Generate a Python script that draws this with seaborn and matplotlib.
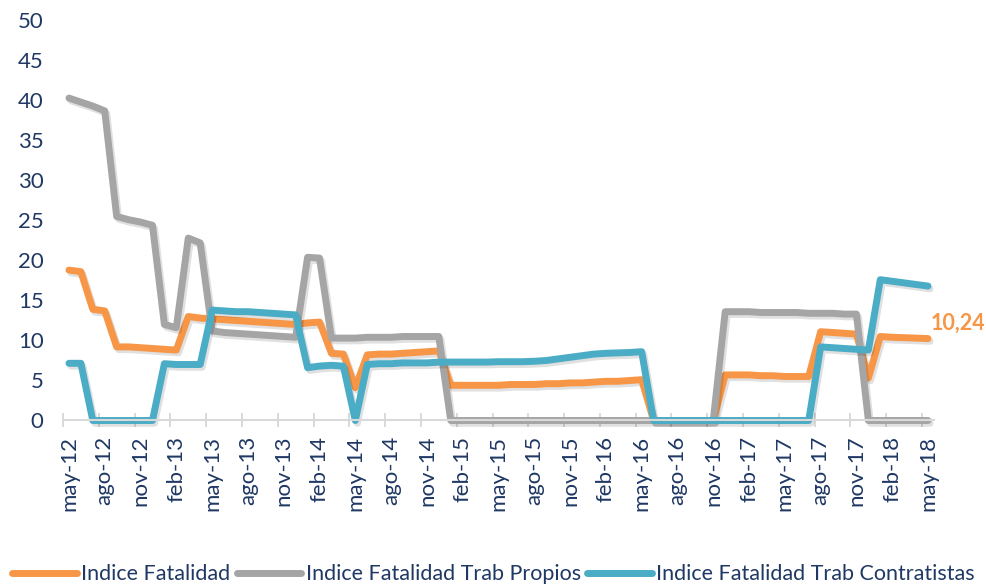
import numpy as np
import pandas as pd
import matplotlib
matplotlib.use("Agg")
import matplotlib.pyplot as plt
import matplotlib.patheffects as pe
import seaborn as sns

# data (monthly, may-12 .. may-18)
etiquetas = ['may-12', 'ago-12', 'nov-12', 'feb-13', 'may-13', 'ago-13', 'nov-13', 'feb-14',
             'may-14', 'ago-14', 'nov-14', 'feb-15', 'may-15', 'ago-15', 'nov-15', 'feb-16',
             'may-16', 'ago-16', 'nov-16', 'feb-17', 'may-17', 'ago-17', 'nov-17', 'feb-18', 'may-18']

fatalidad = [18.8, 18.6, 13.9, 13.7, 9.2, 9.2, 9.1, 9.0, 8.9, 8.8,
             13.0, 12.8, 12.7, 12.6, 12.5, 12.4, 12.3, 12.2, 12.1, 12.0,
             12.2, 12.3, 8.4, 8.3, 4.1, 8.2, 8.3, 8.3, 8.4, 8.5,
             8.6, 8.7, 4.4, 4.4, 4.4, 4.4, 4.4, 4.5, 4.5, 4.5,
             4.6, 4.6, 4.7, 4.7, 4.8, 4.9, 4.9, 5.0, 5.1, 0,
             0, 0, 0, 0, 0, 5.7, 5.7, 5.7, 5.6, 5.6,
             5.5, 5.5, 5.5, 11.1, 11.0, 10.9, 10.8, 5.3, 10.5, 10.4,
             10.35, 10.3, 10.24]

propios = [40.3, 39.8, 39.3, 38.7, 25.5, 25.1, 24.8, 24.4, 12.0, 11.6,
           22.8, 22.2, 11.2, 11.0, 10.9, 10.8, 10.7, 10.6, 10.5, 10.4,
           20.4, 20.3, 10.3, 10.3, 10.3, 10.4, 10.4, 10.4, 10.5, 10.5,
           10.5, 10.5, 0, 0, 0, 0, 0, 0, 0, 0,
           0, 0, 0, 0, 0, 0, 0, 0, 0, 0,
           0, 0, 0, 0, 0, 13.6, 13.6, 13.6, 13.5, 13.5,
           13.5, 13.5, 13.4, 13.4, 13.4, 13.3, 13.3, 0, 0, 0,
           0, 0, 0]

contratistas = [7.15, 7.15, 0, 0, 0, 0, 0, 0, 7.1, 7.0,
                7.0, 7.0, 13.8, 13.7, 13.6, 13.6, 13.5, 13.4, 13.3, 13.2,
                6.6, 6.8, 6.9, 6.8, 0, 7.0, 7.1, 7.1, 7.2, 7.2,
                7.2, 7.3, 7.3, 7.3, 7.3, 7.3, 7.35, 7.35, 7.35, 7.4,
                7.5, 7.7, 7.9, 8.1, 8.3, 8.4, 8.45, 8.5, 8.6, 0,
                0, 0, 0, 0, 0, 0, 0, 0, 0, 0,
                0, 0, 0, 9.2, 9.1, 9.0, 8.9, 8.8, 17.6, 17.4,
                17.2, 17.0, 16.8]

series = ['Indice Fatalidad', 'Indice Fatalidad Trab Propios', 'Indice Fatalidad Trab Contratistas']
colores = ['#F79646', '#A5A5A5', '#4BACC6']

n = len(fatalidad)
df = pd.DataFrame({
    'mes': list(range(n)) * 3,
    'valor': fatalidad + propios + contratistas,
    'serie': [series[0]] * n + [series[1]] * n + [series[2]] * n,
})

sns.set_style("white")
plt.rcParams['font.family'] = ['Lato', 'DejaVu Sans']
navy = '#1F3864'

fig = plt.figure(figsize=(9.87, 5.85), dpi=100)
ax = fig.add_axes([0.0638, 0.2812, 0.8825, 0.6838])

sns.lineplot(data=df, x='mes', y='valor', hue='serie', hue_order=series,
             palette=dict(zip(series, colores)), linewidth=5, ax=ax,
             legend=False, clip_on=False, solid_joinstyle='round', solid_capstyle='round')

for ln in ax.get_lines():
    ln.set_path_effects([pe.SimpleLineShadow(offset=(1.5, -2), alpha=0.12), pe.Normal()])

ax.set_xlim(-0.5, n - 0.5)
ax.set_ylim(0, 50)
ax.set_xlabel('')
ax.set_ylabel('')

ax.set_yticks(range(0, 51, 5))
ax.tick_params(axis='y', length=0, pad=14, labelsize=16, labelcolor=navy)

ax.set_xticks(range(0, n, 3))
ax.set_xticklabels(etiquetas, rotation=90)
ax.tick_params(axis='x', which='major', length=0, pad=11, labelsize=16, labelcolor=navy)
ax.set_xticks(np.arange(-0.5, n, 1), minor=True)
ax.tick_params(axis='x', which='minor', length=3.6, width=1.2, direction='in', color='#D9D9D9')

sec = ax.secondary_xaxis('bottom')
sec.set_xticks(np.arange(-0.5, n, 3))
sec.tick_params(length=10, width=1.4, direction='inout', color='#D9D9D9', labelbottom=False)
sec.spines['bottom'].set_visible(False)

for s in ['top', 'right', 'left']:
    ax.spines[s].set_visible(False)
ax.spines['bottom'].set_color('#D9D9D9')
ax.spines['bottom'].set_linewidth(1.5)

ax.annotate('10,24', xy=(n - 1, fatalidad[-1]), xytext=(2, 11), textcoords='offset points',
            ha='left', va='center', fontsize=15.5, fontweight='bold', color=colores[0])

handles = [plt.Line2D([], [], color=c, linewidth=5, solid_capstyle='round') for c in colores]
leg = fig.legend(handles, series, loc='lower center', bbox_to_anchor=(0.5, -0.032), ncol=3,
                 frameon=False, fontsize=15.5, handlelength=3.0, handletextpad=0.2,
                 columnspacing=0.3)
for t in leg.get_texts():
    t.set_color(navy)

plt.savefig('out.png', dpi=100)
